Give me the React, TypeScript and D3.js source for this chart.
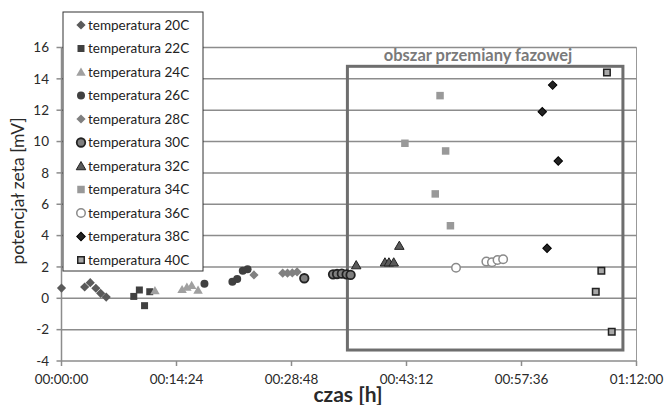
import React from "react";
import * as d3 from "d3";

// time in minutes, potential in mV
const series = [
  { name: "temperatura 20C", t: [0, 2.9, 3.6, 4.3, 4.9, 5.6], v: [0.65, 0.72, 1.0, 0.64, 0.32, 0.08] },
  { name: "temperatura 22C", t: [9.05, 9.75, 10.4, 11.05], v: [0.12, 0.53, -0.47, 0.42] },
  { name: "temperatura 24C", t: [11.7, 15.1, 15.7, 16.3, 17.1], v: [0.5, 0.57, 0.72, 0.83, 0.53] },
  { name: "temperatura 26C", t: [17.9, 21.4, 22.0, 22.7, 23.3], v: [0.93, 1.06, 1.23, 1.76, 1.85] },
  { name: "temperatura 28C", t: [24.1, 27.7, 28.3, 28.9, 29.5], v: [1.49, 1.6, 1.6, 1.62, 1.68] },
  { name: "temperatura 30C", t: [30.4, 34.0, 34.5, 35.1, 35.7, 36.2], v: [1.28, 1.53, 1.55, 1.57, 1.53, 1.49] },
  { name: "temperatura 32C", t: [36.9, 40.5, 41.0, 41.6, 42.3], v: [2.12, 2.3, 2.3, 2.3, 3.36] },
  { name: "temperatura 34C", t: [43.0, 46.8, 47.4, 48.1, 48.7], v: [9.89, 6.66, 12.93, 9.4, 4.63] },
  { name: "temperatura 36C", t: [49.4, 53.2, 53.9, 54.6, 55.3], v: [1.95, 2.34, 2.3, 2.44, 2.49] },
  { name: "temperatura 38C", t: [60.2, 60.8, 61.5, 62.2], v: [11.9, 3.19, 13.6, 8.76] },
  { name: "temperatura 40C", t: [66.9, 67.6, 68.3, 68.9], v: [0.42, 1.76, 14.4, -2.13] },
];

const xTicks = [0, 14.4, 28.8, 43.2, 57.6, 72];
const yTicks = [-4, -2, 0, 2, 4, 6, 8, 10, 12, 14, 16];
const phaseRange = { t0: 35.8, t1: 70.3, v0: -3.3, v1: 14.8 };

type Style = { shape: string; fill: string; stroke: string; sw: number; size: number };
const styles: Style[] = [
  { shape: "diamond", fill: "#5a5a5a", stroke: "none", sw: 0, size: 6.5 },
  { shape: "square", fill: "#404040", stroke: "none", sw: 0, size: 7 },
  { shape: "triangle", fill: "#a0a0a0", stroke: "none", sw: 0, size: 9.5 },
  { shape: "circle", fill: "#404040", stroke: "none", sw: 0, size: 8 },
  { shape: "diamond", fill: "#808080", stroke: "none", sw: 0, size: 6.5 },
  { shape: "circle", fill: "#7f7f7f", stroke: "#222", sw: 1.8, size: 8.5 },
  { shape: "triangle", fill: "#5a5a5a", stroke: "#222", sw: 1, size: 9.5 },
  { shape: "square", fill: "#999999", stroke: "none", sw: 0, size: 7.5 },
  { shape: "circle", fill: "#ffffff", stroke: "#8a8a8a", sw: 1.5, size: 8.5 },
  { shape: "diamond", fill: "#222", stroke: "#000", sw: 1, size: 6 },
  { shape: "square", fill: "#a8a8a8", stroke: "#222", sw: 1.5, size: 6.5 },
];

const W = 664;
const H = 405;
const FONT = "Lato, 'Open Sans', sans-serif";

const fmt = (m: number) => {
  const s = Math.round(m * 60);
  const p = (n: number) => String(n).padStart(2, "0");
  return `${p(Math.floor(s / 3600))}:${p(Math.floor((s % 3600) / 60))}:${p(s % 60)}`;
};

const Marker = ({ st, x, y }: { st: Style; x: number; y: number }) => {
  let d = "";
  if (st.shape === "square" || st.shape === "diamond") {
    d = d3.symbol(d3.symbolSquare, st.size * st.size)() as string;
  } else if (st.shape === "triangle") {
    d = d3.symbol(d3.symbolTriangle, (Math.sqrt(3) / 4) * st.size * st.size)() as string;
  } else {
    d = d3.symbol(d3.symbolCircle, (Math.PI * st.size * st.size) / 4)() as string;
  }
  const rot = st.shape === "diamond" ? " rotate(45)" : "";
  const dy = st.shape === "triangle" ? 1 : 0;
  return (
    <path
      d={d}
      transform={`translate(${x},${y + dy})${rot}`}
      fill={st.fill}
      stroke={st.stroke}
      strokeWidth={st.sw}
    />
  );
};

export default function App() {
  const x = d3.scaleLinear().domain([0, 72]).range([61.5, 636.5]);
  const y = d3.scaleLinear().domain([-4, 16]).range([361, 47.5]);

  return (
    <svg
      width={W}
      height={H}
      style={{ position: "absolute", left: 0, top: 0, background: "#fff" }}
      fontFamily={FONT}
    >
      {/* plot frame top/right */}
      <path
        d={`M${x(0)},${y(16)}H${x(72)}V${y(-4)}`}
        fill="none"
        stroke="#999"
        strokeWidth={1}
      />
      {/* grid */}
      {yTicks.filter((t) => t > -4).map((t) => (
        <line key={t} x1={x(0)} x2={x(72)} y1={y(t)} y2={y(t)} stroke="#8c8c8c" strokeWidth={1.5} />
      ))}
      {/* axes */}
      <line x1={x(0)} x2={x(0)} y1={y(16)} y2={y(-4)} stroke="#8c8c8c" strokeWidth={1.5} />
      <line x1={x(0)} x2={x(72)} y1={y(-4)} y2={y(-4)} stroke="#8c8c8c" strokeWidth={1.5} />
      {yTicks.map((t) => (
        <g key={t}>
          <line x1={x(0) - 5} x2={x(0)} y1={y(t)} y2={y(t)} stroke="#8c8c8c" strokeWidth={1.5} />
          <text x={49} y={y(t)} dy="0.35em" textAnchor="end" fontSize={13.5} fill="#2a2a2a">
            {t}
          </text>
        </g>
      ))}
      {xTicks.map((t) => (
        <g key={t}>
          <line x1={x(t)} x2={x(t)} y1={y(-4)} y2={y(-4) + 5} stroke="#8c8c8c" strokeWidth={1.5} />
          <text x={x(t)} y={384} textAnchor="middle" fontSize={13.5} fill="#2a2a2a">
            {fmt(t)}
          </text>
        </g>
      ))}
      <text
        transform={`translate(24,191) rotate(-90)`}
        textAnchor="middle"
        fontSize={17.5}
        fill="#2a2a2a"
      >
        potencjał zeta [mV]
      </text>
      <text x={348} y={402} textAnchor="middle" fontSize={21} fontWeight="bold" fill="#2a2a2a">
        czas [h]
      </text>

      {/* phase change region */}
      <rect
        x={x(phaseRange.t0)}
        y={y(phaseRange.v1)}
        width={x(phaseRange.t1) - x(phaseRange.t0)}
        height={y(phaseRange.v0) - y(phaseRange.v1)}
        fill="none"
        stroke="#6e6e6e"
        strokeWidth={3}
      />
      <text x={478} y={61} textAnchor="middle" fontSize={16.5} fontWeight="bold" fill="#7a7a7a">
        obszar przemiany fazowej
      </text>

      {/* points */}
      {series.map((s, i) =>
        s.t.map((t, j) => <Marker key={`${i}-${j}`} st={styles[i]} x={x(t)} y={y(s.v[j])} />)
      )}

      {/* legend */}
      <rect x={63} y={12} width={140} height={259} fill="#fff" stroke="#333" strokeWidth={1} />
      {series.map((s, i) => (
        <g key={s.name} transform={`translate(0,${25 + i * 23.5})`}>
          <Marker st={styles[i]} x={81} y={0} />
          <text x={88} y={0} dy="0.35em" fontSize={13.5} fill="#222">
            {s.name}
          </text>
        </g>
      ))}
    </svg>
  );
}
